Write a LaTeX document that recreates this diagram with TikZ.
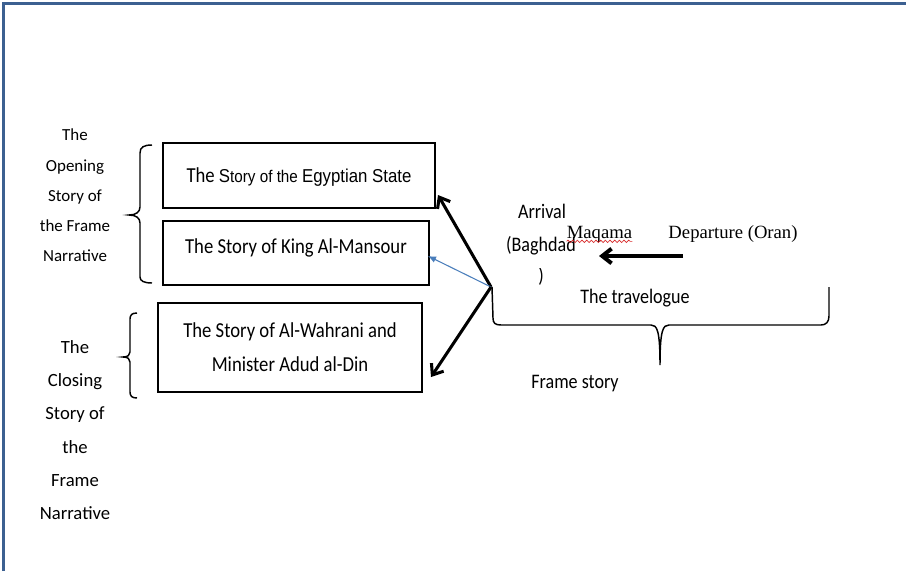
\documentclass[tikz,border=0pt]{standalone}
\usepackage{fontspec}
\setmainfont{Carlito}
\newfontfamily\tallfont{Carlito}[FakeStretch=0.875]
\newfontfamily\serifx{Liberation Serif}
\newfontfamily\arialx{Liberation Sans}[FakeStretch=0.9]
\usetikzlibrary{arrows.meta,decorations.pathmorphing}
\definecolor{frameblue}{RGB}{60,96,145}
\definecolor{arrowblue}{RGB}{74,126,187}
\definecolor{wavyred}{RGB}{215,40,40}
\begin{document}
\begin{tikzpicture}[x=0.75pt,y=-0.75pt,
  storybox/.style={draw, line width=2.2pt, inner sep=0pt, align=center,
    font=\tallfont\fontsize{16}{25.5}\selectfont},
  lbl/.style={inner sep=0pt, font=\tallfont\fontsize{15.5}{16}\selectfont},
  sideopen/.style={inner sep=0pt, align=center, font=\fontsize{12.7}{22.7}\selectfont},
  sideclose/.style={inner sep=0pt, align=center, font=\fontsize{14}{24.9}\selectfont},
  serifl/.style={inner sep=0pt, font=\serifx\fontsize{14}{16}\selectfont},
  bracel/.style={line width=1.1pt},
  bigarrow/.style={line width=2.3pt, -{Straight Barb[length=7pt,width=11pt]}},
  thinarrow/.style={arrowblue, line width=0.8pt, -{Latex[length=6pt,width=5pt]}}]
\useasboundingbox (0,0) rectangle (906,571);
% frame
\draw[frameblue, line width=2.4pt] (3.5,571) -- (3.5,3.5) -- (906,3.5);
% story boxes
\node[storybox, minimum width=204pt, minimum height=48.75pt, text height=10.5pt, text depth=0.75pt] (b1) at (299,175.5)
  {The {\arialx\fontsize{14}{14}\selectfont S}{\arialx\fontsize{12.7}{14}\selectfont tory of the} {\arialx\fontsize{14}{14}\selectfont Egyptian State}};
\node[storybox, minimum width=199.5pt, minimum height=48pt, text height=11pt, text depth=11pt] (b2) at (296,253)
  {The Story of King Al-Mansour};
\node[storybox, minimum width=198pt, minimum height=66.75pt] (b3) at (290,347.5)
  {The Story of Al-Wahrani and\\Minister Adud al-Din};
% side labels
\node[sideopen] (open) at (75,195.5) {The\\Opening\\Story of\\the Frame\\Narrative};
\node[sideclose] (close) at (75,430) {The\\Closing\\Story of\\the\\Frame\\Narrative};
% left braces
\draw[bracel] (152,145) .. controls (144,145) and (140,147) .. (140,153) -- (140,207)
  .. controls (140,212) and (136,215) .. (129,215)
  .. controls (136,215) and (140,218) .. (140,223) -- (140,277)
  .. controls (140,281) and (144,283) .. (152,283);
\draw[bracel] (137,313) .. controls (132,313) and (130,315) .. (130,319) -- (130,352)
  .. controls (130,355) and (128,357) .. (123,357)
  .. controls (128,357) and (130,359) .. (130,362) -- (130,392)
  .. controls (130,396) and (132,398) .. (137,398);
% right side texts
\node[lbl, anchor=base] (arr) at (542,218) {Arrival};
\node[lbl, anchor=base] (bag) at (541,251) {(Baghdad};
\begin{scope}
  \clip (520,268) rectangle (560,284);
  \node[lbl, anchor=base] (par) at (541,282) {)};
\end{scope}
\node[serifl, anchor=base] (maq) at (599.5,238) {Maqama};
\node[serifl, anchor=base] (dep) at (733,238) {Departure (Oran)};
\draw[wavyred, line width=0.5pt, decorate, decoration={snake, amplitude=0.9pt, segment length=3.5pt}]
  ([yshift=-2.5pt]maq.base west) -- ([yshift=-2.5pt]maq.base east);
\node[lbl, anchor=base] (trav) at (635,303) {The travelogue};
\node[lbl, anchor=base] (frame) at (575,388) {Frame story};
% big brace
\draw[bracel] (492,287) -- (493,318) .. controls (493,323) and (495,325) .. (501,325)
  -- (651,325) .. controls (657,325) and (660,330) .. (660,365)
  .. controls (660,330) and (663,325) .. (669,325)
  -- (821,325) .. controls (826,325) and (829,322) .. (829,316) -- (829,287);
% arrows
\coordinate (o) at (491,287);
\coordinate (t1) at (438,195);
\coordinate (t2) at (428,256);
\coordinate (t3) at (431,377);
\coordinate (ds) at (683,256);
\coordinate (de) at (599,256);
\draw[bigarrow] (o) -- (t1);
\draw[thinarrow] (o) -- (t2);
\draw[bigarrow] (o) -- (t3);
\draw[bigarrow, line width=3pt] (ds) -- (de);
\end{tikzpicture}
\end{document}
